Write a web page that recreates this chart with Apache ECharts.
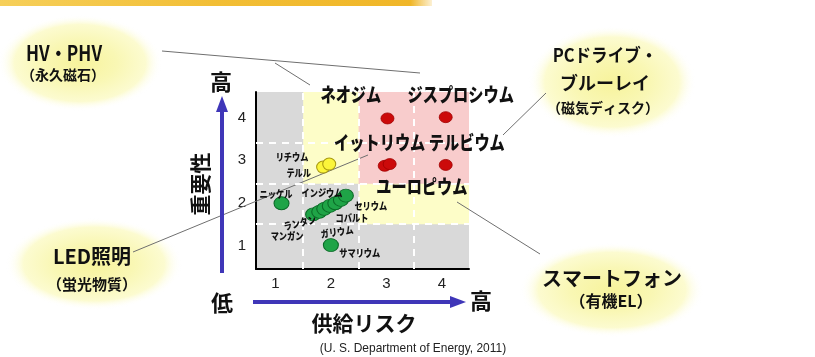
<!DOCTYPE html>
<html><head><meta charset="utf-8">
<script src="https://cdn.jsdelivr.net/npm/echarts@6/dist/echarts.min.js"></script>
<style>html,body{margin:0;padding:0;background:#fff}#c{width:815px;height:357px}</style>
</head><body><div id="c"></div>
<script>
// ---- data ----
const xTicks = [1, 2, 3, 4];
const yTicks = [1, 2, 3, 4];
const xRange = [0.65, 4.49];
const yRange = [0.45, 4.6];
const xSplits = [1.5, 2.5, 3.5];
const ySplits = [1.5, 2.45, 3.4];
const yellowZones = [[1.5, 2.45, 4.49, 4.6], [2.5, 1.5, 4.49, 2.45]];
const pinkZones = [[2.5, 2.45, 4.49, 4.6]];
const redPoints = [[3.02, 3.98], [4.07, 4.01], [2.97, 2.87], [3.06, 2.91], [4.07, 2.89]];
const yellowPoints = [[1.86, 2.84], [1.97, 2.91]];
const greenPoints = [[1.11, 1.99], [2.0, 1.01], [1.68, 1.73], [1.79, 1.79], [1.88, 1.86], [1.98, 1.93], [2.08, 1.99], [2.18, 2.07], [2.27, 2.17]];
const majorNames = ['ネオジム', 'ジスプロシウム', 'イットリウム', 'テルビウム', 'ユーロピウム'];
const majorPos = [[2.36, 4.53], [4.34, 4.53], [2.88, 3.40], [4.45, 3.40], [3.64, 2.37]];
const minorNames = ['リチウム', 'テルル', 'ニッケル', 'インジウム', 'ランタン', 'マンガン', 'ガリウム', 'セリウム', 'コバルト', 'サマリウム'];
const minorPos = [[1.30, 3.08], [1.42, 2.70], [1.01, 2.21], [1.84, 2.23], [1.44, 1.53], [1.21, 1.22], [2.11, 1.32], [2.72, 1.93], [2.38, 1.65], [2.52, 0.83]];
const minorRotate = [0, 0, 0, 0, 14, 0, 8, 0, 0, 0];
const xTitle = '供給リスク';
const yTitle = '重要性';
const sourceNote = '(U. S. Department of Energy, 2011)';

// ---- chart ----
const JP = '"Noto Sans CJK JP", "Noto Sans", sans-serif';
const chart = echarts.init(document.getElementById('c'), null, {renderer: 'canvas'});

function zone(z, color) {
  return [{xAxis: z[0], yAxis: z[1], itemStyle: {color: color, opacity: 1}}, {xAxis: z[2], yAxis: z[3]}];
}
const areaData = yellowZones.map(z => zone(z, '#fdfdc8')).concat(pinkZones.map(z => zone(z, '#f8cccc')));
const lineData = xSplits.map(v => ({xAxis: v})).concat(ySplits.map(v => ({yAxis: v})));

function txt(x, y, text, size, weight, extra) {
  return Object.assign({
    type: 'text', x: x, y: y, z: 10,
    style: {text: text, fill: '#111', font: (weight || 'bold') + ' ' + size + 'px ' + JP,
      align: 'center', verticalAlign: 'middle', textAlign: 'center', textVerticalAlign: 'middle'}
  }, extra || {});
}
function bubble(cx, cy, rx, ry) {
  return {type: 'circle', z: 1, x: cx, y: cy, scaleX: rx / ry, scaleY: 1, shape: {cx: 0, cy: 0, r: ry},
    style: {fill: {type: 'radial', x: 0.5, y: 0.5, r: 0.5, colorStops: [
      {offset: 0, color: '#f7f39c'}, {offset: 0.45, color: '#f9f7b4'}, {offset: 0.8, color: '#fcfbd0'}, {offset: 1, color: 'rgba(255,255,255,0)'}]}}};
}
function seg(x1, y1, x2, y2) {
  return {type: 'line', z: 3, shape: {x1: x1, y1: y1, x2: x2, y2: y2}, style: {stroke: '#6f6f6f', lineWidth: 1}};
}
const AC = '#3f36b8';

chart.setOption({
  animation: false,
  grid: {left: 256, top: 92, width: 213, height: 177, show: true, backgroundColor: '#d9d9d9', borderWidth: 0},
  xAxis: {type: 'value', min: xRange[0], max: xRange[1],
    axisLine: {show: true, onZero: false, lineStyle: {color: '#000', width: 2}},
    axisTick: {show: false}, splitLine: {show: false},
    axisLabel: {customValues: xTicks, margin: 7, fontSize: 15, color: '#222', fontFamily: 'Liberation Sans'}},
  yAxis: {type: 'value', min: yRange[0], max: yRange[1],
    axisLine: {show: true, onZero: false, lineStyle: {color: '#000', width: 2}},
    axisTick: {show: false}, splitLine: {show: false},
    axisLabel: {customValues: yTicks, margin: 10, fontSize: 15, color: '#222', fontFamily: 'Liberation Sans'}},
  series: [
    {type: 'scatter', z: 1, data: [], silent: true,
      markArea: {silent: true, data: areaData}},
    {type: 'scatter', z: 2, data: [], silent: true,
      markLine: {silent: true, symbol: 'none', label: {show: false},
        lineStyle: {color: '#ffffff', width: 2, type: [7, 6], opacity: 1}, data: lineData}},
    {type: 'scatter', z: 4, data: redPoints, symbolSize: [13, 11],
      itemStyle: {color: '#cc0a0a', borderColor: '#a00000', borderWidth: 0.8, opacity: 1}},
    {type: 'scatter', z: 4, data: yellowPoints, symbolSize: [13, 12],
      itemStyle: {color: '#fbf53a', borderColor: '#a89a10', borderWidth: 1, opacity: 1}},
    {type: 'scatter', z: 4, data: greenPoints, symbolSize: [15, 13],
      itemStyle: {color: '#1fa447', borderColor: '#0b6a27', borderWidth: 1, opacity: 1}}
  ]
});

// element name labels, placed through the grid's coordinate system
const labelEls = [];
majorNames.forEach((n, i) => {
  const p = chart.convertToPixel({gridIndex: 0}, majorPos[i]);
  labelEls.push(txt(p[0], p[1], n, 19, '900', {scaleX: 0.8, z: 12}));
});
minorNames.forEach((n, i) => {
  const p = chart.convertToPixel({gridIndex: 0}, minorPos[i]);
  labelEls.push(txt(p[0], p[1], n, 10, '900', {scaleX: 0.82, rotation: minorRotate[i] * Math.PI / 180, z: 12}));
});

chart.setOption({
  graphic: {elements: [
    {type: 'rect', z: 1, shape: {x: 0, y: 0, width: 432, height: 6},
      style: {fill: {type: 'linear', x: 0, y: 0, x2: 1, y2: 0, colorStops: [
        {offset: 0, color: '#f6cf5a'}, {offset: 0.5, color: '#f2be35'}, {offset: 0.95, color: '#f0b628'}, {offset: 1, color: 'rgba(240,182,40,0.2)'}]}}},
    bubble(80, 63, 82, 48),
    bubble(612, 82, 84, 56),
    bubble(94, 264, 88, 46),
    bubble(612, 290, 92, 47),
    seg(162, 51, 420, 73),
    seg(275, 63, 310, 85),
    seg(503, 135, 546, 93),
    seg(133, 252, 368, 155),
    seg(457, 202, 540, 254),
    txt(64, 53, 'HV・PHV', 21, 'bold', {scaleX: 0.82}),
    txt(63, 75, '（永久磁石）', 14),
    txt(605, 55, 'PCドライブ・', 18, 'bold', {scaleX: 0.92}),
    txt(605, 83, 'ブルーレイ', 18),
    txt(603, 108, '（磁気ディスク）', 14),
    txt(92, 256, 'LED照明', 20),
    txt(92, 284, '（蛍光物質）', 15),
    txt(612, 278, 'スマートフォン', 20),
    txt(611, 301, '（有機EL）', 16),
    // axis arrows
    {type: 'line', z: 3, shape: {x1: 222, y1: 273, x2: 222, y2: 110}, style: {stroke: AC, lineWidth: 4}},
    {type: 'polygon', z: 3, shape: {points: [[222, 96], [216, 112], [228, 112]]}, style: {fill: AC}},
    {type: 'line', z: 3, shape: {x1: 253, y1: 302, x2: 452, y2: 302}, style: {stroke: AC, lineWidth: 4}},
    {type: 'polygon', z: 3, shape: {points: [[466, 302], [450, 296], [450, 308]]}, style: {fill: AC}},
    txt(221, 82, '高', 22),
    txt(222, 303, '低', 22),
    txt(481, 301, '高', 22),
    txt(200, 184, yTitle, 21, 'bold', {rotation: Math.PI / 2}),
    txt(364, 323, xTitle, 21, 'bold'),
    {type: 'text', z: 10, x: 413, y: 348, scaleX: 0.92,
      style: {text: sourceNote, fill: '#222', font: '13px "Liberation Sans", sans-serif',
        align: 'center', verticalAlign: 'middle', textAlign: 'center', textVerticalAlign: 'middle'}}
  ].concat(labelEls)}
});
</script>
</body></html>
